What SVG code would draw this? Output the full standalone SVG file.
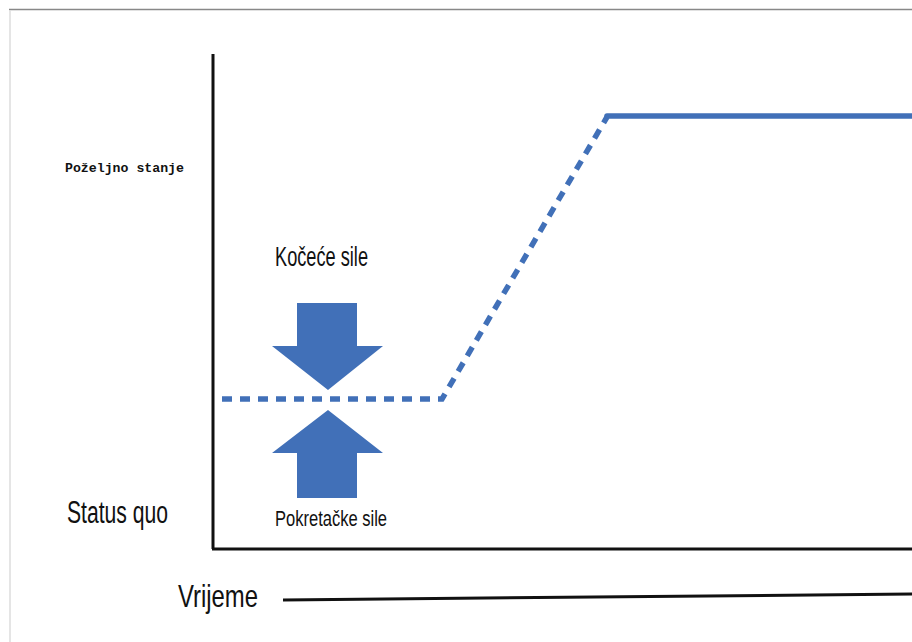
<svg xmlns="http://www.w3.org/2000/svg" width="912" height="642" viewBox="0 0 912 642">
<style>
.axis{stroke:#111;stroke-width:3;fill:none}
.blue{stroke:#4170b8;stroke-width:5.5;fill:none}
.dash{stroke-dasharray:10 8}
.arrow{fill:#4170b8}
.cond{font-family:"Liberation Sans",Arial,sans-serif;fill:#111}
.mono{font-family:"Liberation Mono","Courier New",monospace;font-weight:bold;font-size:13.3px;fill:#111}
</style>
<rect x="0" y="0" width="912" height="642" fill="#fff"/>
<g id="frame">
<line x1="9" y1="9.5" x2="912" y2="9.5" stroke="#888" stroke-width="1.5"/>
<line x1="10" y1="10" x2="10" y2="642" stroke="#ddd" stroke-width="1.5"/>
</g>
<g id="axes">
<line class="axis" x1="213" y1="54" x2="213" y2="549"/>
<line class="axis" x1="212" y1="549" x2="912" y2="549"/>
<line class="axis" x1="283" y1="600" x2="912" y2="594"/>
</g>
<g id="connectors">
<polyline class="blue dash" points="222,399 442,399 607,117"/>
<line class="blue" x1="607" y1="116" x2="912" y2="116" stroke-linecap="round"/>
</g>
<g id="arrow-down">
<polygon class="arrow" points="297,303 357,303 357,346 383,346 328,390 272,346 297,346"/>
</g>
<g id="arrow-up">
<polygon class="arrow" points="328,410 383,453 357,453 357,498 297,498 297,453 272,453"/>
</g>
<g id="labels">
<text class="mono" x="65" y="172" textLength="119" lengthAdjust="spacingAndGlyphs">Poželjno stanje</text>
<text class="cond" x="275" y="266" font-size="27" textLength="93" lengthAdjust="spacingAndGlyphs">Kočeće sile</text>
<text class="cond" x="67" y="523" font-size="31" textLength="101" lengthAdjust="spacingAndGlyphs">Status quo</text>
<text class="cond" x="275" y="526" font-size="22" textLength="112" lengthAdjust="spacingAndGlyphs">Pokretačke sile</text>
<text class="cond" x="178" y="607" font-size="32" textLength="80" lengthAdjust="spacingAndGlyphs">Vrijeme</text>
</g>
</svg>
